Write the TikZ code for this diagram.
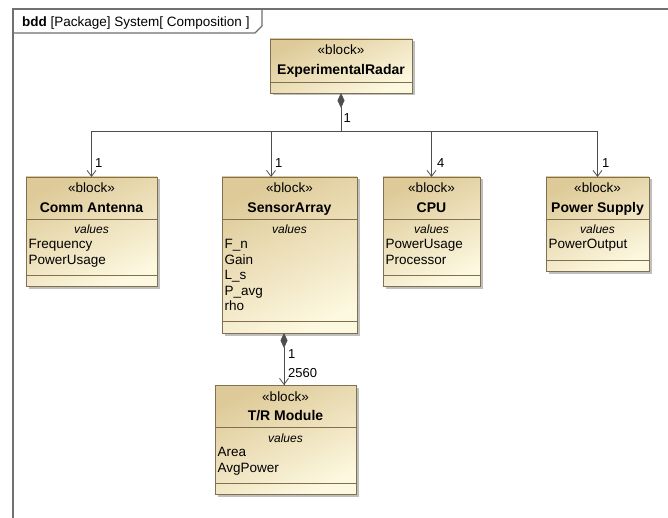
\documentclass[tikz,border=0pt]{standalone}
\usepackage{fontspec}
\setmainfont{Liberation Sans}
\usetikzlibrary{arrows.meta,calc,shadows}

\definecolor{blkTop}{RGB}{222,202,152}
\definecolor{blkBot}{RGB}{253,248,224}
\definecolor{blkLine}{RGB}{128,112,80}
\definecolor{wireCol}{RGB}{78,78,78}
\definecolor{frameCol}{RGB}{112,112,112}

% horizontal compartment line across a block, #2 pt below its top edge
\newcommand\umlsep[2]{\draw[sepline] ($(#1.north west)+(0,#2)$) -- ($(#1.north east)+(0,#2)$);}

\begin{document}
\begin{tikzpicture}[x=1pt,y=-1pt,
  blk/.style={draw=blkLine, line width=0.8pt, top color=blkTop, bottom color=blkBot,
    shading angle=25, inner sep=0pt, outer sep=0pt, anchor=north west,
    drop shadow={shadow xshift=2.5pt, shadow yshift=-2.5pt, fill=black, opacity=0.25}},
  sepline/.style={draw=blkLine, line width=0.7pt},
  stereo/.style={font=\fontsize{13.5}{15}\selectfont, anchor=base, inner sep=0pt},
  bname/.style={font=\bfseries\fontsize{14}{16}\selectfont, anchor=base, inner sep=0pt},
  vhead/.style={font=\itshape\fontsize{12}{14}\selectfont, anchor=base, inner sep=0pt},
  val/.style={font=\fontsize{13.5}{15}\selectfont, anchor=base west, inner sep=0pt},
  mult/.style={font=\fontsize{13}{15}\selectfont, anchor=base west, inner sep=0pt},
  frameline/.style={draw=frameCol, line width=1.4pt},
  wire/.style={draw=wireCol, line width=0.8pt},
  part/.style={wire, -{Straight Barb[length=6pt,width=9pt,line width=0.8pt]}},
  owner/.style={wire, {Diamond[length=15pt,width=7pt,fill=wireCol]}-}
]
\useasboundingbox (0,0) rectangle (668,518);
\fill[white] (0,0) rectangle (668,518);

% diagram frame and its name tab
\draw[frameline] (13,518) -- (13,9) -- (668,9);
\draw[frameline] (13,33) -- (255,33) -- (262,26) -- (262,9);
\node[font=\fontsize{13.5}{15}\selectfont, anchor=base west, inner sep=0pt] (title) at (22,26.5)
  {\textbf{bdd} [Package] System[ Composition ]};

% ExperimentalRadar
\node[blk, minimum width=142pt, minimum height=54pt] (er) at (270,39) {};
\node[stereo] (erS) at ($(er.north)+(0,16)$) {«block»};
\node[bname] (erN) at ($(er.north)+(0,35.5)$) {ExperimentalRadar};
\umlsep{er}{43}

% Comm Antenna
\node[blk, minimum width=131pt, minimum height=109pt] (ca) at (26,177) {};
\node[stereo] (caS) at ($(ca.north)+(0,16)$) {«block»};
\node[bname] (caN) at ($(ca.north)+(0,35.5)$) {Comm Antenna};
\umlsep{ca}{42.5}
\node[vhead] (caV) at ($(ca.north)+(0,57)$) {values};
\node[val] (ca1) at ($(ca.north west)+(2.5,71.5)$) {Frequency};
\node[val] (ca2) at ($(ca.north west)+(2.5,87)$) {PowerUsage};
\umlsep{ca}{98}

% SensorArray
\node[blk, minimum width=135pt, minimum height=156pt] (sa) at (222,177) {};
\node[stereo] (saS) at ($(sa.north)+(0,16)$) {«block»};
\node[bname] (saN) at ($(sa.north)+(0,35.5)$) {SensorArray};
\umlsep{sa}{42.5}
\node[vhead] (saV) at ($(sa.north)+(0,57)$) {values};
\node[val] (sa1) at ($(sa.north west)+(2.5,71.5)$) {F\_n};
\node[val] (sa2) at ($(sa.north west)+(2.5,87)$) {Gain};
\node[val] (sa3) at ($(sa.north west)+(2.5,102.5)$) {L\_s};
\node[val] (sa4) at ($(sa.north west)+(2.5,118)$) {P\_avg};
\node[val] (sa5) at ($(sa.north west)+(2.5,133.5)$) {rho};
\umlsep{sa}{144.5}

% CPU
\node[blk, minimum width=97pt, minimum height=109pt] (cpu) at (383,177) {};
\node[stereo] (cpuS) at ($(cpu.north)+(0,16)$) {«block»};
\node[bname] (cpuN) at ($(cpu.north)+(0,35.5)$) {CPU};
\umlsep{cpu}{42.5}
\node[vhead] (cpuV) at ($(cpu.north)+(0,57)$) {values};
\node[val] (cpu1) at ($(cpu.north west)+(2.5,71.5)$) {PowerUsage};
\node[val] (cpu2) at ($(cpu.north west)+(2.5,87)$) {Processor};
\umlsep{cpu}{98}

% Power Supply
\node[blk, minimum width=103pt, minimum height=94pt] (ps) at (546,177) {};
\node[stereo] (psS) at ($(ps.north)+(0,16)$) {«block»};
\node[bname] (psN) at ($(ps.north)+(0,35.5)$) {Power Supply};
\umlsep{ps}{42.5}
\node[vhead] (psV) at ($(ps.north)+(0,57)$) {values};
\node[val] (ps1) at ($(ps.north west)+(2.5,71.5)$) {PowerOutput};
\umlsep{ps}{83}

% T/R Module
\node[blk, minimum width=141pt, minimum height=109pt] (tr) at (215,385) {};
\node[stereo] (trS) at ($(tr.north)+(0,16.5)$) {«block»};
\node[bname] (trN) at ($(tr.north)+(0,35.5)$) {T/R Module};
\umlsep{tr}{42.5}
\node[vhead] (trV) at ($(tr.north)+(0,57)$) {values};
\node[val] (tr1) at ($(tr.north west)+(2.5,71.5)$) {Area};
\node[val] (tr2) at ($(tr.north west)+(2.5,87)$) {AvgPower};
\umlsep{tr}{98}

% composition: ExperimentalRadar owns its four parts
\coordinate (bus) at (er.south |- 0,131);
\coordinate (saIn) at (271,177);
\draw[owner] (er.south) -- (bus);
\draw[part] (bus) -| (ca.north);
\draw[part] (bus) -| (saIn);
\draw[part] (bus) -| (cpu.north);
\draw[part] (bus) -| (ps.north);
\node[mult] (mEr) at (343.5,123) {1};
\node[mult] (mCa) at (95,168) {1};
\node[mult] (mSa) at (275,168) {1};
\node[mult] (mCpu) at (437,168) {4};
\node[mult] (mPs) at (602,168) {1};

% composition: SensorArray owns its T/R modules
\coordinate (saOut) at (284,333);
\coordinate (trIn) at (284,385);
\draw[owner] (saOut) -- (trIn);
\draw[part] ($(trIn)+(0,-1)$) -- (trIn);
\node[mult] (mSaT) at (288,358) {1};
\node[mult] (mTr) at (288,377) {2560};
\end{tikzpicture}
\end{document}
